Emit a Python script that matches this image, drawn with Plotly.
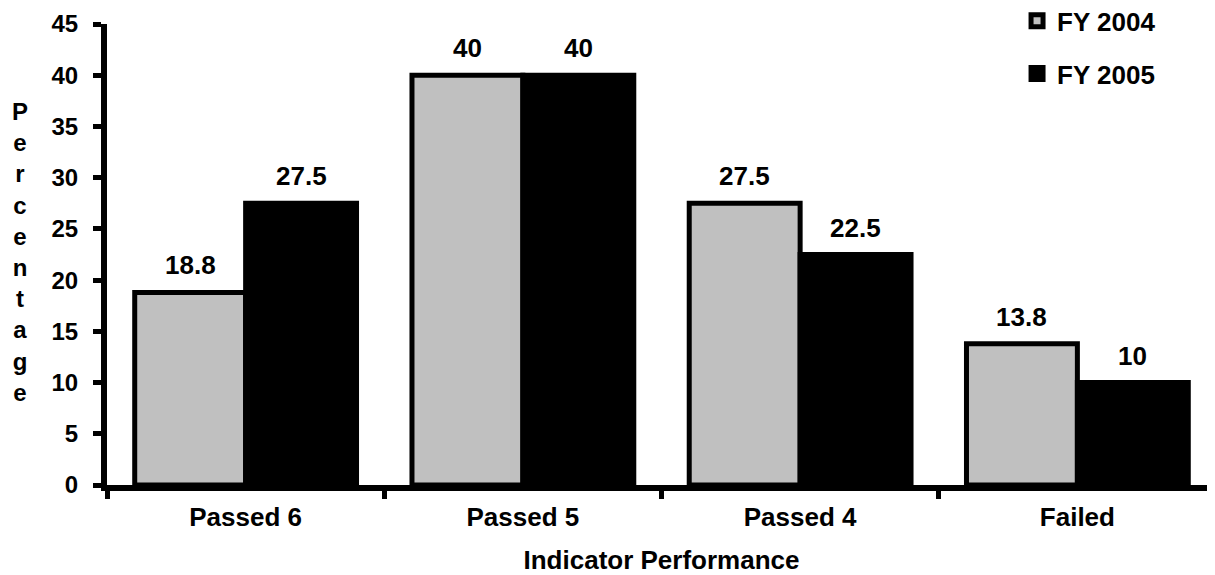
import plotly.graph_objects as go

categories = ["Passed 6", "Passed 5", "Passed 4", "Failed"]
fy2004 = [18.8, 40, 27.5, 13.8]
fy2005 = [27.5, 40, 22.5, 10]
series_names = ["FY 2004", "FY 2005"]
y_ticks = [0, 5, 10, 15, 20, 25, 30, 35, 40, 45]
y_title = "Percentage"
x_title = "Indicator Performance"

FONT = "Liberation Sans, Arial, sans-serif"
def f(size):
    return dict(family=FONT, size=size, color="black", weight="bold")

L, R, T, B = 99, 7, 16, 98
plot_w = 1215 - L - R

fig = go.Figure()
fig.add_trace(go.Bar(x=categories, y=fy2004, name=series_names[0], legendgroup="a",
                     marker=dict(color="#C0C0C0", line=dict(color="black", width=5))))
fig.add_trace(go.Bar(x=categories, y=fy2005, name=series_names[1], legendgroup="b",
                     marker=dict(color="black", line=dict(color="black", width=5))))

bar_px = plot_w / 4 * 0.8 / 2
for vals, sh in ((fy2004, -bar_px / 2), (fy2005, bar_px / 2)):
    for c, v in zip(categories, vals):
        fig.add_annotation(x=c, y=v, text=f"{v:g}", showarrow=False, xshift=sh,
                           yanchor="bottom", yshift=10, font=f(26))

fig.add_annotation(xref="paper", yref="paper", x=0, y=0.505, xshift=-87,
                   xanchor="center", yanchor="middle",
                   text="<br>".join(list(y_title)), showarrow=False, align="center",
                   font=f(24))

fig.update_layout(
    width=1215, height=575,
    margin=dict(l=L, r=R, t=T, b=B, autoexpand=False),
    paper_bgcolor="white", plot_bgcolor="white",
    bargap=0.2, bargroupgap=0,
    font=f(24),
    legend=dict(x=0.8206, y=1.058, xanchor="left", yanchor="top",
                traceorder="grouped", tracegroupgap=16,
                font=f(26), bgcolor="rgba(0,0,0,0)"),
    xaxis=dict(showline=True, linecolor="black", linewidth=6, ticks="outside",
               tickson="boundaries", ticklen=8, tickwidth=5, tickcolor="black",
               showgrid=False, range=[-0.5, 3.5], ticklabelstandoff=4,
               tickfont=f(26),
               title=dict(text=x_title, standoff=22, font=f(26))),
    yaxis=dict(showline=True, linecolor="black", linewidth=6, ticks="outside",
               ticklen=8, tickwidth=5, tickcolor="black", showgrid=False,
               range=[0, 45], tickvals=y_ticks, zeroline=False,
               ticklabelstandoff=10, tickfont=f(24)),
)
fig.write_html("out.html")
